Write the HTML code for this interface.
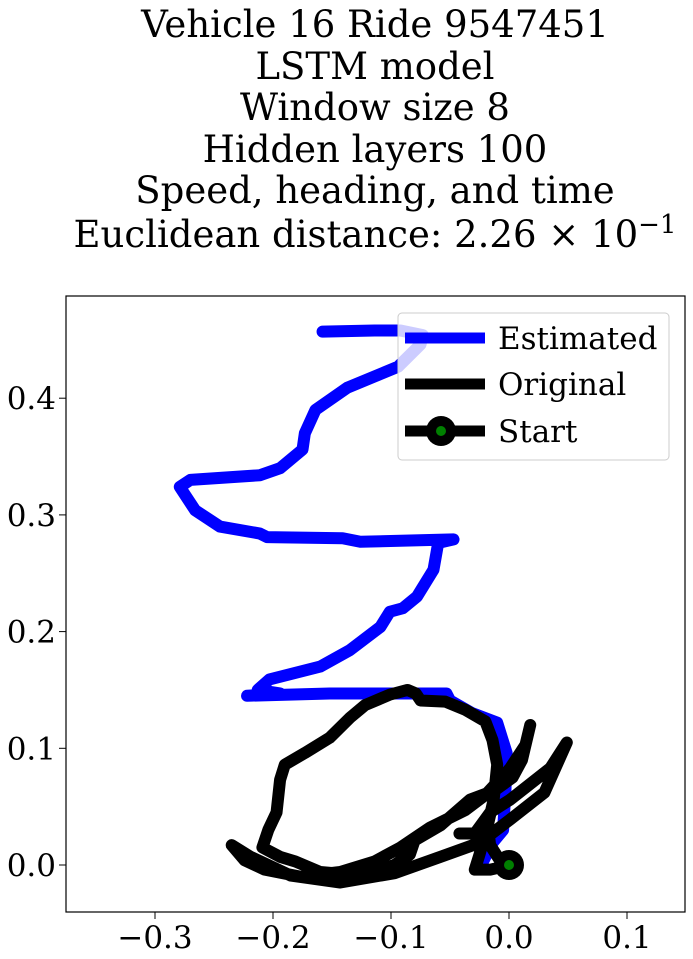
<!DOCTYPE html>
<html><head><meta charset="utf-8"><style>
html,body{margin:0;padding:0;background:#fff;width:693px;height:959px;overflow:hidden}
svg text{font-family:"DejaVu Serif","Liberation Serif",serif;fill:#000}
</style></head><body>
<svg id="chart" width="693" height="959" viewBox="0 0 693 959" xmlns="http://www.w3.org/2000/svg">
<g font-size="37" text-anchor="middle">
<text x="375" y="37">Vehicle 16 Ride 9547451</text>
<text x="375" y="79">LSTM model</text>
<text x="375" y="120">Window size 8</text>
<text x="375" y="162">Hidden layers 100</text>
<text x="375" y="203">Speed, heading, and time</text>
<text x="375" y="247">Euclidean distance: 2.26 × 10<tspan dy="-14" font-size="26">−1</tspan></text>
</g>
<defs><clipPath id="clip"><rect x="66" y="296" width="619" height="616"/></clipPath></defs>
<g id="marks" clip-path="url(#clip)"></g>
<rect x="66" y="296" width="619" height="616" fill="none" stroke="#000" stroke-width="1.2"/>
<g id="ticks"></g>
<g>
<rect x="398" y="313" width="271" height="147" rx="4" fill="#fff" fill-opacity="0.8" stroke="#ccc" stroke-width="1"/>
<line x1="405" y1="338" x2="485" y2="338" stroke="#0000ff" stroke-width="11"/>
<text x="498" y="349" font-size="31">Estimated</text>
<line x1="405" y1="384" x2="485" y2="384" stroke="#000" stroke-width="11"/>
<text x="498" y="395" font-size="31">Original</text>
<line x1="405" y1="431" x2="485" y2="431" stroke="#000" stroke-width="11"/>
<circle cx="441" cy="431" r="15" fill="#000"/>
<circle cx="441" cy="431" r="5" fill="#008000"/>
<text x="498" y="442" font-size="31">Start</text>
</g>
</svg>
<script>
const estX=[-0.022,-0.014,-0.005,-0.003,-0.002,-0.010,-0.031,-0.050,-0.053,-0.152,-0.222,-0.194,-0.213,-0.203,-0.160,-0.135,-0.109,-0.101,-0.090,-0.078,-0.064,-0.060,-0.047,-0.126,-0.141,-0.205,-0.211,-0.245,-0.266,-0.279,-0.270,-0.211,-0.194,-0.175,-0.173,-0.164,-0.137,-0.094,-0.075,-0.073,-0.092,-0.114,-0.158];
const estY=[0.003,0.019,0.030,0.064,0.096,0.122,0.130,0.141,0.147,0.147,0.145,0.147,0.150,0.159,0.170,0.184,0.204,0.217,0.220,0.230,0.253,0.276,0.279,0.277,0.280,0.281,0.284,0.290,0.304,0.324,0.330,0.334,0.340,0.356,0.370,0.390,0.409,0.427,0.446,0.454,0.458,0.458,0.457];
const origX=[0,-0.009,-0.016,-0.018,-0.013,-0.010,-0.014,-0.020,-0.037,-0.054,-0.075,-0.079,-0.086,-0.101,-0.122,-0.135,-0.152,-0.173,-0.190,-0.194,-0.197,-0.204,-0.209,-0.194,-0.181,-0.160,-0.126,-0.097,-0.084,-0.080,-0.058,-0.033,-0.012,0.003,0.011,0.018,0.014,0.001,-0.020,-0.037,-0.067,-0.092,-0.114,-0.143,-0.177,-0.207,-0.224,-0.235,-0.219,-0.185,-0.143,-0.097,-0.058,-0.025,0.001,0.030,0.049,0.035,0.001,-0.016,-0.029,-0.042,-0.020,-0.025,-0.029,-0.016,-0.003];
const origY=[0,0.006,0.017,0.034,0.056,0.086,0.107,0.123,0.133,0.140,0.141,0.147,0.150,0.146,0.137,0.126,0.109,0.096,0.086,0.073,0.045,0.030,0.015,0.007,0.003,-0.006,-0.009,0,0.009,0.021,0.034,0.056,0.064,0.075,0.090,0.120,0.103,0.083,0.060,0.047,0.032,0.015,0.003,-0.006,-0.010,-0.004,0.004,0.017,0.007,-0.009,-0.015,-0.007,0.007,0.019,0.039,0.062,0.105,0.083,0.056,0.045,0.027,0.027,0.027,0.009,-0.004,-0.004,-0.001];
const startPt=[0,0];
const xTicks=[-0.3,-0.2,-0.1,0.0,0.1];
const yTicks=[0.0,0.1,0.2,0.3,0.4];
const xTickLabels=["−0.3","−0.2","−0.1","0.0","0.1"];
const yTickLabels=["0.0","0.1","0.2","0.3","0.4"];
const NS="http://www.w3.org/2000/svg";
const sx=v=>509+v*1180, sy=v=>865-v*1167;
const marks=document.getElementById('marks');
function path(xs,ys,color,name){
  const p=document.createElementNS(NS,'polyline');
  p.setAttribute('points',xs.map((x,i)=>sx(x)+','+sy(ys[i])).join(' '));
  p.setAttribute('fill','none');p.setAttribute('stroke',color);p.setAttribute('stroke-width','12');
  p.setAttribute('stroke-linejoin','round');p.setAttribute('stroke-linecap','round');
  
  
  marks.appendChild(p);
}
path(estX,estY,'#0000ff','estimated-line');
path(origX,origY,'#000','original-line');
const c1=document.createElementNS(NS,'circle');
c1.setAttribute('cx',sx(startPt[0]));c1.setAttribute('cy',sy(startPt[1]));c1.setAttribute('r','15');c1.setAttribute('fill','#000');


marks.appendChild(c1);
const c2=document.createElementNS(NS,'circle');
c2.setAttribute('cx',sx(startPt[0]));c2.setAttribute('cy',sy(startPt[1]));c2.setAttribute('r','5');c2.setAttribute('fill','#008000');


marks.appendChild(c2);
const tg=document.getElementById('ticks');
xTicks.forEach((v,i)=>{
  const l=document.createElementNS(NS,'line');
  l.setAttribute('x1',sx(v));l.setAttribute('x2',sx(v));l.setAttribute('y1',912);l.setAttribute('y2',919);l.setAttribute('stroke','#000');
  
  
  tg.appendChild(l);
  const t=document.createElementNS(NS,'text');
  t.setAttribute('x',sx(v));t.setAttribute('y',948);t.setAttribute('font-size','31');t.setAttribute('text-anchor','middle');
  t.textContent=xTickLabels[i];
  
  
  tg.appendChild(t);
});
yTicks.forEach((v,i)=>{
  const l=document.createElementNS(NS,'line');
  l.setAttribute('x1',59);l.setAttribute('x2',66);l.setAttribute('y1',sy(v));l.setAttribute('y2',sy(v));l.setAttribute('stroke','#000');
  
  
  tg.appendChild(l);
  const t=document.createElementNS(NS,'text');
  t.setAttribute('x',56);t.setAttribute('y',sy(v)+11);t.setAttribute('font-size','31');t.setAttribute('text-anchor','end');
  t.textContent=yTickLabels[i];
  
  
  tg.appendChild(t);
});
</script>
</body></html>
